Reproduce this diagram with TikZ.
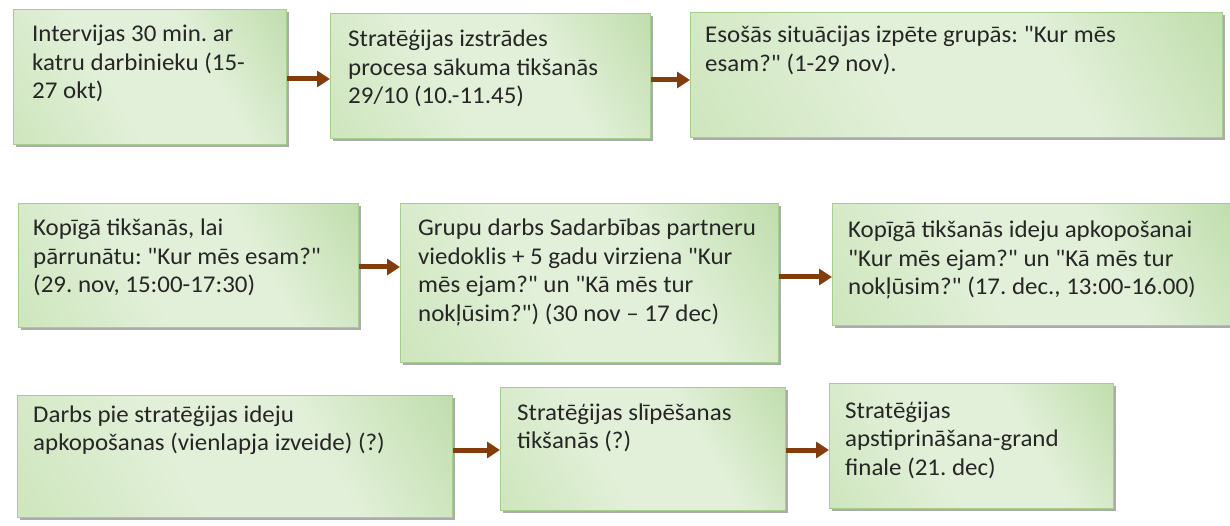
\documentclass[tikz,border=0pt]{standalone}
\usepackage{fontspec}
\setmainfont{Carlito}[Ligatures=TeXOff, FakeStretch=1.04]
\usetikzlibrary{arrows.meta,shadows}

\definecolor{gDark}{HTML}{A9D18E}
\definecolor{gLow}{HTML}{C2DFAC}
\definecolor{gPale}{HTML}{E2F0D9}
\definecolor{gEdge}{HTML}{A6CF8B}
\definecolor{ink}{HTML}{262626}
\definecolor{arrowc}{HTML}{843C0C}

% diagonal green gradient: darker at top right, pale through the middle
\pgfdeclarehorizontalshading{boxgrad}{100bp}{color(0bp)=(gLow); color(42bp)=(gPale); color(62bp)=(gPale); color(100bp)=(gDark)}

\newcommand{\stagetext}[1]{\parbox[t]{460pt}{\raggedright\frenchspacing #1}}

\begin{document}
\begin{tikzpicture}[x=1pt,y=-1pt,
  stage/.style={draw=gEdge, line width=0.8pt, shading=boxgrad, shading angle=30,
    anchor=north west, inner sep=0pt,
    drop shadow={shadow xshift=2.5pt, shadow yshift=-3pt, fill=black!55, opacity=0.6}},
  txt/.style={anchor=base west, inner sep=0pt, text=ink,
    font=\fontsize{24}{28.5}\selectfont},
  flow/.style={draw=arrowc, line width=5pt, -{Triangle[length=13pt,width=16pt]}}]

\useasboundingbox (0,0) rectangle (1230,526);
\fill[white] (0,0) rectangle (1230,526);

% row 1
\node[stage, minimum width=273pt, minimum height=135pt] (b1) at (13,9) {};
\node[stage, minimum width=320pt, minimum height=125pt] (b2) at (330,13) {};
\node[stage, minimum width=532pt, minimum height=125pt] (b3) at (690,12) {};
% row 2
\node[stage, minimum width=340pt, minimum height=124pt] (b4) at (18,203) {};
\node[stage, minimum width=378pt, minimum height=159pt] (b5) at (400,203) {};
\node[stage, minimum width=400pt, minimum height=122pt] (b6) at (832,203) {};
% row 3
\node[stage, minimum width=435pt, minimum height=122pt] (b7) at (17,395) {};
\node[stage, minimum width=285pt, minimum height=123pt] (b8) at (500,387) {};
\node[stage, minimum width=284pt, minimum height=125pt] (b9) at (829,383) {};

% labels
\node[txt] (t1) at (32,42) {\stagetext{Intervijas 30 min. ar\\katru darbinieku (15-\\27 okt)}};
\node[txt] (t2) at (348,47) {\stagetext{Stratēģijas izstrādes\\procesa sākuma tikšanās\\29/10 (10.-11.45)}};
\node[txt] (t3) at (705,43) {\stagetext{Esošās situācijas izpēte grupās: "Kur mēs\\esam?" (1-29 nov).}};
\node[txt] (t4) at (33,236) {\stagetext{Kopīgā tikšanās, lai\\pārrunātu: "Kur mēs esam?"\\(29. nov, 15:00-17:30)}};
\node[txt] (t5) at (418,236) {\stagetext{Grupu darbs Sadarbības partneru\\viedoklis + 5 gadu virziena "Kur\\mēs ejam?" un "Kā mēs tur\\nokļūsim?") (30 nov – 17 dec)}};
\node[txt] (t6) at (848,238) {\stagetext{Kopīgā tikšanās ideju apkopošanai\\"Kur mēs ejam?" un "Kā mēs tur\\nokļūsim?" (17. dec., 13:00-16.00)}};
\node[txt] (t7) at (33,422) {\stagetext{Darbs pie stratēģijas ideju\\apkopošanas (vienlapja izveide) (?)}};
\node[txt] (t8) at (517,420) {\stagetext{Stratēģijas slīpēšanas\\tikšanās (?)}};
\node[txt] (t9) at (845,418) {\stagetext{Stratēģijas\\apstiprināšana-grand\\finale (21. dec)}};

% connectors
\draw[flow] (b1.east |- 0,79) -- (b2.west |- 0,79);
\draw[flow] (b2.east |- 0,80) -- (b3.west |- 0,80);
\draw[flow] (b4.east |- 0,267) -- (b5.west |- 0,267);
\draw[flow] (b5.east |- 0,277) -- (b6.west |- 0,277);
\draw[flow] (b7.east |- 0,450) -- (b8.west |- 0,450);
\draw[flow] (b8.east |- 0,450) -- (b9.west |- 0,450);
\end{tikzpicture}
\end{document}
